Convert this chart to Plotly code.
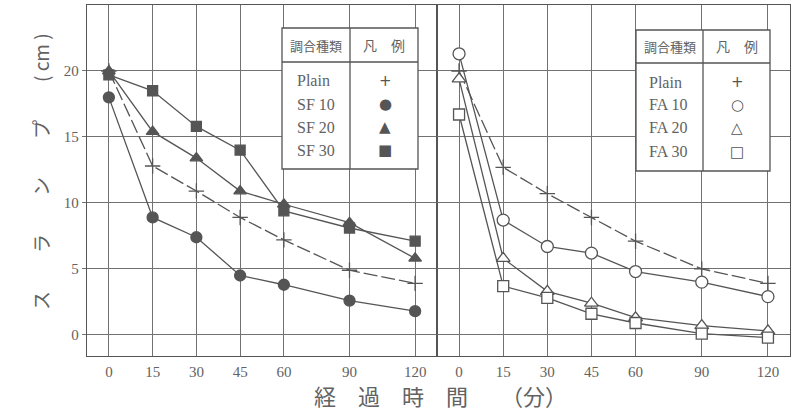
import plotly.graph_objects as go

# ---------------- data ----------------
TIME_MIN = [0, 15, 30, 45, 60, 90, 120]
TICK_LABELS = ["0", "15", "30", "45", "60", "90", "120"]
Y_TICKS = [0, 5, 10, 15, 20]

# left panel (silica fume)
PLAIN_SF = [20.0, 12.8, 10.9, 8.9, 7.2, 4.9, 3.9]
SF10 = [18.0, 8.9, 7.4, 4.5, 3.8, 2.6, 1.8]
SF20 = [20.0, 15.4, 13.4, 10.9, 9.9, 8.5, 5.8]
SF30 = [19.7, 18.5, 15.8, 14.0, 9.4, 8.1, 7.1]

# right panel (fly ash)
PLAIN_FA = [20.0, 12.7, 10.7, 8.9, 7.1, 5.0, 3.9]
FA10 = [21.3, 8.7, 6.7, 6.2, 4.8, 4.0, 2.9]
FA20 = [19.4, 5.8, 3.3, 2.4, 1.3, 0.7, 0.3]
FA30 = [16.7, 3.7, 2.8, 1.6, 0.9, 0.1, -0.2]

LEGEND_SF = ["Plain", "SF 10", "SF 20", "SF 30"]
LEGEND_FA = ["Plain", "FA 10", "FA 20", "FA 30"]
SYM_SF = ["+", "●", "▲", "■"]
SYM_FA = ["+", "○", "△", "□"]


# time axis is compressed after 60 min (15-min steps up to 60, then 30-min steps at 1.5 units)
def time_pos(t):
    return t / 15 if t <= 60 else 4 + (t - 60) / 20


XPOS = [time_pos(t) for t in TIME_MIN]

# ---------------- style ----------------
W, H = 792, 419
ML, MR, MT, MB = 87, 2, 5, 63
PW, PH = W - ML - MR, H - MT - MB
SPLIT = (437 - ML) / PW

INK = "#555555"
GRID = "#727272"
TXT = "#626262"
SERIF = "Liberation Serif, DejaVu Serif, serif"
CJK = "Noto Sans CJK JP, sans-serif"


def px(x):
    return (x - ML) / PW


def py(y):
    return (H - MB - y) / PH


fig = go.Figure()


def add_series(xa, ya, yv, symbol, filled, dash="solid", size=10):
    fig.add_trace(go.Scatter(
        x=XPOS, y=yv, xaxis=xa, yaxis=ya, mode="lines+markers",
        line=dict(color=INK, width=1.3, dash=dash),
        marker=dict(symbol=symbol, size=size,
                    color=INK if filled else "white",
                    line=dict(color=INK, width=1.3)),
        showlegend=False, hoverinfo="skip"))


# left panel
add_series("x", "y", PLAIN_SF, "cross-thin", False, dash="14px,4px", size=11)
add_series("x", "y", SF10, "circle", True, size=11)
add_series("x", "y", SF20, "triangle-up", True, size=11)
add_series("x", "y", SF30, "square", True, size=10)
# right panel
add_series("x2", "y2", PLAIN_FA, "cross-thin", False, dash="14px,4px", size=11)
add_series("x2", "y2", FA10, "circle", False, size=12)
add_series("x2", "y2", FA20, "triangle-up", False, size=12)
add_series("x2", "y2", FA30, "square", False, size=11)

xcommon = dict(range=[-0.5, 7.5], tickvals=XPOS, ticktext=TICK_LABELS,
               showgrid=True, gridcolor=GRID, gridwidth=1,
               showline=True, linecolor=INK, linewidth=1.3, mirror=True,
               ticks="", ticklabelstandoff=2,
               tickfont=dict(family=SERIF, size=15, color=TXT),
               zeroline=False, fixedrange=True)
ycommon = dict(range=[-1.6, 25.0], tickvals=Y_TICKS,
               showgrid=True, gridcolor=GRID, gridwidth=1,
               showline=True, linecolor=INK, linewidth=1.3, mirror=True,
               tickcolor=GRID,
               tickfont=dict(family=SERIF, size=15, color=TXT),
               zeroline=False, fixedrange=True)

fig.update_layout(
    width=W, height=H,
    margin=dict(l=ML, r=MR, t=MT, b=MB),
    paper_bgcolor="white", plot_bgcolor="white",
    xaxis=dict(domain=[0, SPLIT], anchor="y", **xcommon),
    xaxis2=dict(domain=[SPLIT, 1], anchor="y2", **xcommon),
    yaxis=dict(domain=[0, 1], anchor="x", ticks="outside", ticklen=4, **ycommon),
    yaxis2=dict(domain=[0, 1], anchor="x2", showticklabels=False, ticks="", **ycommon),
)

shapes = []
annots = []


def note(text, x, y, font, xanchor="center", textangle=0):
    annots.append(dict(text=text, xref="paper", yref="paper", x=px(x), y=py(y),
                       xanchor=xanchor, yanchor="middle", showarrow=False,
                       textangle=textangle, font=font))


def legend_table(x0, x1, y0, y1, yh, xc, lab_x, sym_x, row_y, labels, syms):
    shapes.append(dict(type="rect", xref="paper", yref="paper",
                       x0=px(x0), x1=px(x1), y0=py(y0), y1=py(y1),
                       fillcolor="white", line=dict(color=INK, width=1.3),
                       layer="above"))
    shapes.append(dict(type="line", xref="paper", yref="paper",
                       x0=px(x0), x1=px(x1), y0=py(yh), y1=py(yh),
                       line=dict(color=INK, width=1.3), layer="above"))
    shapes.append(dict(type="line", xref="paper", yref="paper",
                       x0=px(xc), x1=px(xc), y0=py(y0), y1=py(y1),
                       line=dict(color=INK, width=1.3), layer="above"))
    note("調合種類", (x0 + xc) / 2, (y0 + yh) / 2,
         dict(family=CJK, size=13, color=TXT))
    note("凡　例", (xc + x1) / 2, (y0 + yh) / 2,
         dict(family=CJK, size=14, color=TXT))
    for lab, sym, yy in zip(labels, syms, row_y):
        note(lab, lab_x, yy, dict(family=SERIF, size=16, color=TXT), xanchor="left")
        note(sym, sym_x, yy, dict(family="DejaVu Sans", size=15, color=INK))


legend_table(282, 418, 28, 169, 62, 350, 295, 385, [81, 104, 127, 150],
             LEGEND_SF, SYM_SF)
legend_table(636, 770, 30, 171, 63, 703, 647, 737, [82, 105, 128, 152],
             LEGEND_FA, SYM_FA)

# axis titles
GAP_Y = "\u3000\u2002\u2002"
note(GAP_Y.join(["ス", "ラ", "ン", "プ", "( cm )"]), 40, 172,
     dict(family=CJK, size=19, color=TXT), textangle=-90)
note("経\u3000過\u3000時\u3000間\u3000\u2002（分）", 440, 395,
     dict(family=CJK, size=22, color=TXT))

fig.update_layout(shapes=shapes, annotations=annots)

# remove the default page margin so the figure sits at the window's top-left corner
fig.write_html("out.html", config={"displayModeBar": False},
               post_script="document.body.style.margin='0px';")
